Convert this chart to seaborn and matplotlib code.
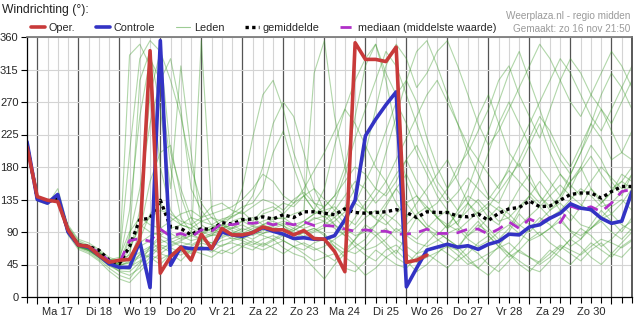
import matplotlib
matplotlib.use("Agg")
import numpy as np
import pandas as pd
import seaborn as sns
import matplotlib.pyplot as plt
from matplotlib.lines import Line2D

# ---------------- data (hours after Mon 17 Nov 00:00, 6-hourly) ----------------
hours = list(range(-6, 349, 6))  # 60 time steps

oper = [208, 139, 134, 132, 93, 72, 70, 58, 48, 51,
        52, 79, 341, 33, 56, 69, 51, 87, 67, 95,
        86, 86, 89, 97, 93, 93, 86, 92, 81, 80,
        63, 35, 352, 329, 329, 326, 346, 48, 51, 58]

controle = [215, 135, 130, 142, 90, 72, 69, 58, 46, 41,
            41, 77, 13, 355, 44, 69, 67, 67, 67, 90,
            86, 84, 89, 96, 91, 87, 81, 82, 80, 80,
            85, 107, 134, 223, 246, 266, 284, 14, 40, 65,
            69, 73, 69, 71, 66, 73, 77, 87, 86, 97,
            100, 109, 116, 129, 123, 121, 109, 102, 105, 146]

gemiddelde = [211, 137, 132, 136, 92, 72, 70, 65, 51, 46,
              70, 107, 109, 134, 97, 95, 86, 95, 93, 103,
              101, 107, 108, 111, 108, 114, 110, 118, 118, 116,
              114, 122, 117, 116, 117, 118, 121, 117, 110, 118,
              117, 117, 112, 111, 115, 106, 116, 122, 124, 133,
              125, 126, 134, 142, 144, 144, 137, 146, 153, 153]

mediaan = [211, 137, 132, 136, 92, 72, 69, 62, 50, 47,
           78, 81, 77, 94, 84, 88, 83, 93, 91, 102,
           100, 103, 102, 104, 100, 103, 100, 104, 99, 99,
           98, 94, 91, 93, 91, 91, 87, 87, 89, 94,
           88, 88, 89, 94, 94, 87, 94, 104, 95, 108,
           102, 110, 103, 126, 121, 125, 118, 130, 146, 149]

leden = {
    "m1": [214,136,130,140,94,74,70,62,50,48, 335,350,320,180,120,100,95,105,110,98,
           112,118,105,120,125,115,130,140,120,150, 210,260,300,330,350,310,280,300,340,355,
           320,280,240,200,230,260,300,320,280,250, 220,260,300,330,310,280,260,240,270,300],
    "m2": [210,140,135,132,90,70,66,55,45,40, 38,60,55,70,62,58,66,70,62,72,
           75,70,78,72,80,68,60,55,40,25, 45,60,70,58,50,65,72,60,48,55,
           62,70,58,45,52,60,68,75,62,55, 48,60,72,65,58,70,80,75,68,78],
    "m3": [216,133,128,150,98,78,72,64,52,45, 60,120,280,340,200,150,110,90,85,100,
           95,105,110,100,95,88,92,100,110,105, 120,140,160,150,130,145,170,190,160,140,
           110,95,120,140,130,110,100,125,150,170, 140,120,135,160,180,150,130,145,170,160],
    "m4": [208,138,134,136,88,68,62,52,40,30, 25,45,70,85,78,70,75,355,120,90,
           80,85,92,88,95,100,85,90,95,88, 70,60,80,100,90,75,60,85,110,95,
           80,70,65,90,105,85,70,90,115,100, 85,95,110,90,80,100,120,105,90,110],
    "m5": [212,135,131,138,100,80,75,66,55,50, 52,80,115,130,110,100,95,88,95,105,
           110,120,140,180,240,270,250,200,150,120, 100,90,110,130,150,200,250,300,270,220,
           180,150,170,210,250,280,240,200,180,210, 240,200,170,150,180,210,190,160,140,170],
    "m6": [213,139,133,134,86,66,60,50,36,25, 20,35,50,60,55,65,60,70,65,60,
           68,75,70,65,72,78,70,60,50,55, 60,40,35,50,65,55,45,40,55,60,
           50,40,55,70,60,45,35,50,65,55, 45,55,70,60,50,65,75,60,55,70],
    "m7": [211,137,132,142,96,73,68,58,48,42, 80,300,340,260,150,320,200,100,90,95,
           100,92,98,105,110,108,115,120,310,355, 250,180,140,120,110,130,150,170,140,120,
           130,150,180,200,170,140,130,160,190,220, 250,230,200,180,210,240,220,190,200,230],
    "m8": [209,134,129,137,91,71,65,57,47,44, 47,55,65,75,80,85,78,82,88,92,
           96,90,85,92,98,102,95,88,92,100, 110,95,85,90,100,115,105,90,80,95,
           110,120,100,85,95,110,125,115,100,90, 105,120,130,115,100,95,110,125,135,120],
    "m9": [215,137,131,139,93,72,67,60,49,50, 200,330,355,340,300,250,180,130,110,105,
           115,125,130,150,200,230,180,140,120,110, 130,170,220,260,300,340,320,280,240,200,
           160,140,120,150,190,230,270,310,340,300, 260,220,190,170,200,240,280,310,290,260],
    "m10": [212,138,134,133,89,69,64,55,44,38, 42,50,60,72,68,62,70,78,75,70,
            78,82,75,70,78,85,80,72,65,70, 80,90,75,65,70,80,95,85,75,70,
            78,88,95,80,70,78,90,100,88,78, 85,95,105,92,85,95,108,115,100,92],
    "m11": [214,135,130,141,97,76,71,63,51,55, 90,110,100,95,105,115,120,110,125,130,
            120,115,125,135,130,120,135,145,130,125, 140,160,180,170,150,140,160,190,210,180,
            150,130,145,165,150,135,155,175,160,145, 130,150,170,155,140,160,180,165,150,170],
    "m12": [210,139,135,135,90,70,66,56,46,35, 30,40,55,45,60,50,65,60,55,65,
            60,70,65,75,68,60,70,65,75,80, 70,55,45,30,40,55,65,50,35,45,
            60,75,65,50,40,55,70,60,45,35, 50,65,55,45,60,75,65,55,70,80],
    "m13": [213,136,132,138,95,74,69,61,50,48, 65,100,90,85,95,100,110,105,100,108,
            112,150,220,280,300,260,200,160,130,115, 110,125,150,200,260,320,350,330,290,310,
            340,355,320,280,240,210,230,260,290,320, 350,330,300,270,250,280,310,340,320,290],
    "m14": [211,137,133,136,92,72,67,59,48,46, 55,75,85,90,88,80,85,92,98,95,
            100,105,98,95,100,105,100,95,100,105, 95,85,95,110,120,105,90,100,115,125,
            110,95,105,120,135,120,105,110,125,140, 125,110,120,135,150,140,125,130,145,155],
    "m15": [209,135,130,139,94,75,70,61,52,50, 58,70,78,65,75,82,88,80,85,90,
            85,80,88,95,90,85,80,90,95,85, 75,65,60,70,85,95,80,70,60,65,
            70,60,50,60,75,85,70,55,65,80, 90,75,65,80,95,85,70,80,95,105],
    "m16": [214,138,131,135,91,70,65,56,47,43, 50,90,160,200,210,140,100,90,95,88,
            95,100,92,100,108,110,100,105,115,120, 125,110,100,120,140,160,130,110,130,150,
            170,190,160,130,115,125,145,165,185,160, 140,125,140,160,175,195,170,150,160,180],
    "m17": [212,136,133,137,93,71,66,57,47,45, 85,150,240,300,330,260,150,120,100,95,
            105,110,100,115,120,130,125,140,150,135, 120,100,130,160,190,230,270,240,200,170,
            140,120,100,130,160,200,240,270,240,210, 180,160,140,170,200,230,260,230,200,190],
    "m18": [210,138,132,135,90,69,65,55,45,48, 120,250,330,300,180,110,90,85,95,100,
            92,88,95,100,105,98,92,100,108,112, 100,85,70,80,100,125,150,130,110,95,
            85,100,115,130,110,95,80,95,120,140, 160,140,120,105,125,150,135,115,130,150],
    "m19": [214,137,131,136,92,73,68,59,49,46, 52,62,70,80,72,78,85,80,75,82,
            88,95,90,85,80,88,95,105,115,125, 140,180,250,320,350,300,230,160,120,100,
            90,80,70,85,100,90,75,60,75,95, 110,100,85,70,80,95,105,90,80,95],
    "m20": [213,139,134,133,89,70,64,54,43,36, 35,48,58,52,60,68,62,75,70,78,
            82,78,72,80,85,78,70,75,68,60, 50,65,80,95,85,70,55,45,60,75,
            90,80,70,55,40,30,45,60,50,40, 35,50,65,80,70,55,45,60,75,90],
    "m21": [211,136,130,139,95,74,70,62,52,50, 70,95,110,120,115,105,100,110,115,120,
            125,135,150,170,160,140,130,150,175,200, 230,260,240,210,180,160,190,220,250,280,
            300,270,240,210,190,170,150,180,210,240, 270,300,330,310,280,250,230,260,290,320],
    "m22": [212,138,133,134,90,71,67,57,47,44, 48,58,68,60,70,76,72,80,86,84,
            90,86,80,88,92,95,90,84,90,96, 105,118,130,120,108,100,115,130,140,125,
            110,100,92,105,118,130,120,108,98,112, 125,140,155,140,128,118,130,145,160,150],
}

day_labels = ["Ma 17", "Di 18", "Wo 19", "Do 20", "Vr 21", "Za 22", "Zo 23",
              "Ma 24", "Di 25", "Wo 26", "Do 27", "Vr 28", "Za 29", "Zo 30"]
y_ticks = [0, 45, 90, 135, 180, 225, 270, 315, 360]

# ---------------- styling ----------------
sns.set_theme(style="white")
plt.rcParams["font.family"] = ["Liberation Sans", "DejaVu Sans"]

C_OPER = "#c83a3a"
C_CTRL = "#3333c4"
C_LEDEN = "#3d9a2a"
C_MED = "#b030c8"

fig = plt.figure(figsize=(6.36, 3.28), dpi=100)
ax = fig.add_axes([27 / 636, 1 - 297 / 328, (632 - 27) / 636, (297 - 37) / 328])

# members
rows = []
for name, vals in leden.items():
    for h, v in zip(hours, vals):
        rows.append({"uur": h, "graden": v, "lid": name})
df_leden = pd.DataFrame(rows)
sns.lineplot(data=df_leden, x="uur", y="graden", units="lid", estimator=None,
             color=C_LEDEN, alpha=0.4, lw=0.8, ax=ax, legend=False)

df_mean = pd.DataFrame({"uur": hours[:len(gemiddelde)], "graden": gemiddelde})
df_med = pd.DataFrame({"uur": hours[:len(mediaan)], "graden": mediaan})
df_ctrl = pd.DataFrame({"uur": hours[:len(controle)], "graden": controle})
df_oper = pd.DataFrame({"uur": hours[:len(oper)], "graden": oper})

sns.lineplot(data=df_mean, x="uur", y="graden", color="black", lw=2.4,
             linestyle=(0, (1, 1)), ax=ax)
sns.lineplot(data=df_med, x="uur", y="graden", color=C_MED, lw=2.0,
             linestyle=(0, (4, 3)), ax=ax)
sns.lineplot(data=df_ctrl, x="uur", y="graden", color=C_CTRL, lw=2.6, ax=ax)
sns.lineplot(data=df_oper, x="uur", y="graden", color=C_OPER, lw=2.6, ax=ax)

# axes
ax.set_xlim(hours[0], hours[-1])
ax.set_ylim(0, 360)
ax.set_xlabel("")
ax.set_ylabel("")
ax.set_yticks(y_ticks)
ax.set_yticklabels([str(v) for v in y_ticks])

midnights = [24 * d for d in range(15)]
ax.set_xticks(midnights)
ax.set_xticklabels([""] * len(midnights))
minor_pos = [h for h in hours if h % 24 != 0]
minor_lab = []
for h in minor_pos:
    if h % 24 == 12 and 0 <= h // 24 < len(day_labels):
        minor_lab.append(day_labels[h // 24])
    else:
        minor_lab.append("")
ax.set_xticks(minor_pos, minor=True)
ax.set_xticklabels(minor_lab, minor=True)

ax.tick_params(axis="both", which="both", direction="out", length=4, width=0.8,
               color="black", labelsize=8, pad=2, bottom=True, left=True)
ax.tick_params(axis="x", which="both", pad=3)
ax.tick_params(axis="x", which="major", length=5)

ax.grid(False)
ax.grid(True, axis="x", which="major", color="#555555", lw=0.9)
ax.grid(True, axis="x", which="minor", color="#d4d4d4", lw=0.8)
ax.grid(True, axis="y", which="major", color="#d4d4d4", lw=0.8)
ax.set_axisbelow(True)

for s in ["left", "bottom"]:
    ax.spines[s].set_color("black")
    ax.spines[s].set_linewidth(0.9)
ax.spines["right"].set_color("#444444")
ax.spines["top"].set_color("#777777")
for s in ax.spines.values():
    s.set_visible(True)

# texts
fig.text(2 / 636, 1 - 10 / 328, "Windrichting (°):", fontsize=8.7, va="center",
         ha="left", color="#222222")
fig.text(630 / 636, 1 - 16 / 328, "Weerplaza.nl - regio midden", fontsize=7.2,
         ha="right", va="center", color="#9a9a9a")
fig.text(630 / 636, 1 - 29 / 328, "Gemaakt: zo 16 nov 21:50", fontsize=7.2,
         ha="right", va="center", color="#9a9a9a")

handles = [
    Line2D([], [], color=C_OPER, lw=2.6),
    Line2D([], [], color=C_CTRL, lw=2.6),
    Line2D([], [], color=C_LEDEN, lw=0.8, alpha=0.5),
    Line2D([], [], color="black", lw=2.4, linestyle=(0, (1, 1))),
    Line2D([], [], color=C_MED, lw=2.0, linestyle=(0, (4, 3))),
]
labels = ["Oper.", "Controle", "Leden", "gemiddelde", "mediaan (middelste waarde)"]
fig.legend(handles, labels, ncol=5, loc="center left",
           bbox_to_anchor=(31 / 636, 1 - 28 / 328), bbox_transform=fig.transFigure,
           frameon=False, fontsize=7.8, handlelength=1.3, handletextpad=0.35,
           columnspacing=1.9, borderpad=0, borderaxespad=0)

fig.savefig("out.png", dpi=100)
